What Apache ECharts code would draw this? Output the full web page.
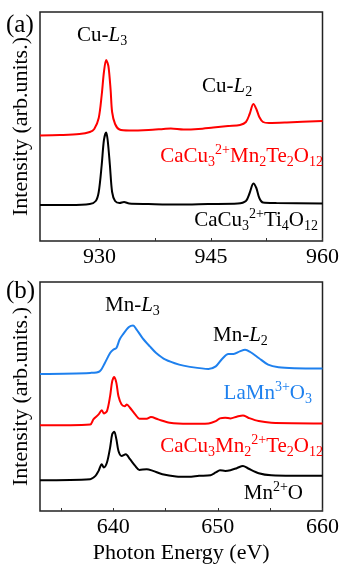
<!DOCTYPE html>
<html>
<head>
<meta charset="utf-8">
<script src="https://cdn.jsdelivr.net/npm/echarts@6/dist/echarts.min.js"></script>
<style>
  html, body { margin: 0; padding: 0; background: #fff; }
  #chart { width: 342px; height: 565px; }
</style>
</head>
<body>
<div id="chart"></div>
<script>
// panel (a): Cu L-edge, [energy eV, intensity arb.]
const cuMnTe = [
  [922.0, 105.5], [924.7, 106], [927.3, 107], [928.7, 109], [929.3, 112], [929.9, 123],
  [930.3, 146], [930.6, 169], [930.9, 181], [931.2, 175], [931.5, 151], [931.7, 129],
  [932.1, 117], [932.7, 111.5], [934.0, 110.5], [936.6, 111], [938.6, 112], [939.6, 112.5],
  [941.3, 111.5], [943.3, 112], [945.3, 113.5], [947.3, 115], [948.9, 116], [949.7, 119],
  [950.2, 127], [950.7, 137], [951.1, 132], [951.5, 124], [952.0, 119], [952.8, 118],
  [955.2, 118.5], [960, 120]
];
const cuTi = [
  [922.0, 36], [926.0, 36], [928.7, 37], [929.5, 40], [929.9, 49], [930.3, 76],
  [930.6, 101], [930.9, 108.5], [931.1, 101], [931.4, 76], [931.7, 49], [932.1, 40],
  [932.7, 38], [933.3, 39], [934.0, 37.5], [936.6, 37], [940.6, 36.5], [944.6, 37],
  [948.6, 37.5], [949.7, 40], [950.2, 48], [950.7, 57.5], [951.1, 53], [951.5, 43],
  [952.0, 38.5], [953.8, 38], [960, 37.5]
];

// panel (b): Mn L-edge
const laMnO3 = [
  [633, 137.7], [637.8, 138.7], [638.7, 140.3], [639.2, 148.7], [639.7, 158.7], [640.0, 162],
  [640.3, 163.7], [640.6, 172], [640.9, 177], [641.5, 184.7], [641.9, 186.3], [642.2, 182.7],
  [642.8, 173.7], [643.5, 165.3], [644.1, 158.7], [645.0, 152], [646.3, 147], [647.2, 145],
  [649.1, 142.7], [649.8, 145.3], [650.4, 152.7], [651.0, 157.7], [651.5, 157.7], [652.1, 160.3],
  [652.6, 162], [653.1, 159.7], [653.9, 153.7], [654.8, 147], [655.8, 144.3], [657.3, 143.3],
  [660, 143]
];
const mnCuTe = [
  [633, 86], [637.8, 87], [638.1, 92], [638.6, 97], [638.9, 101.3], [639.1, 98],
  [639.4, 100.3], [639.7, 115.3], [639.9, 130.3], [640.1, 134.7], [640.3, 128.7], [640.5, 115.3],
  [640.8, 107], [641.1, 105.3], [641.3, 107], [641.6, 103.7], [642.1, 97], [642.5, 92.7],
  [643.2, 92.7], [643.6, 94.3], [644.3, 92], [645.4, 88.7], [647.2, 87.7], [649.1, 88],
  [649.8, 90.3], [650.2, 93], [650.7, 93.7], [651.2, 93], [651.8, 94.7], [652.4, 96],
  [652.9, 93.7], [653.9, 90.3], [655.1, 88.7], [660, 88]
];
const mnO = [
  [633, 31], [637.8, 32], [638.3, 35.3], [638.6, 40.3], [638.9, 47], [639.1, 43.7],
  [639.4, 48.7], [639.7, 63.7], [639.9, 77], [640.1, 79.7], [640.3, 72], [640.5, 60.3],
  [640.8, 55.3], [641.2, 57], [641.6, 52], [642.1, 45.3], [642.5, 41.3], [643.2, 42],
  [643.8, 40.3], [644.7, 37], [646.0, 34.7], [647.2, 34.3], [648.2, 35.3], [649.3, 36],
  [649.8, 38.7], [650.2, 41], [650.7, 40.3], [651.2, 41], [651.8, 43], [652.4, 45.3],
  [652.9, 42.7], [653.9, 38], [655.1, 36], [660, 35.3]
];

const labelsA = [930, 945, 960];
const ticksA = [930, 937.5, 945, 952.5, 960];
const labelsB = [640, 650, 660];
const ticksB = [635, 640, 645, 650, 655, 660];

const FONT = "Liberation Serif";
const RED = "#ff0000";
const BLUE = "#1e80ee";

const chart = echarts.init(document.getElementById("chart"));

function xAxis(idx, min, max, labels, ticks, name) {
  return {
    type: "value", gridIndex: idx, min: min, max: max,
    axisLine: { show: false },
    splitLine: { show: false },
    axisTick: { inside: true, length: 3, customValues: ticks, lineStyle: { color: "#333", width: 1 } },
    axisLabel: { customValues: labels, fontFamily: FONT, fontSize: 22, color: "#000", margin: 5 },
    name: name, nameLocation: "middle", nameGap: 31,
    nameTextStyle: { fontFamily: FONT, fontSize: 22, color: "#000" }
  };
}

function yAxis(idx, max) {
  return {
    type: "value", gridIndex: idx, min: 0, max: max,
    axisLine: { show: false }, axisTick: { show: false },
    axisLabel: { show: false }, splitLine: { show: false },
    name: "Intensity (arb.units.)", nameLocation: "middle", nameGap: 8,
    nameTextStyle: { fontFamily: FONT, fontSize: 22, color: "#000" }
  };
}

function line(idx, data, color) {
  return {
    type: "line", xAxisIndex: idx, yAxisIndex: idx, data: data,
    showSymbol: false, smooth: 0.3,
    lineStyle: { color: color, width: 2 }
  };
}

const rich = {
  n: { fontFamily: FONT, fontSize: 21, lineHeight: 26 },
  i: { fontFamily: FONT, fontSize: 21, lineHeight: 26, fontStyle: "italic" },
  sub: { fontFamily: FONT, fontSize: 14, lineHeight: 14, verticalAlign: "bottom" },
  sup: { fontFamily: FONT, fontSize: 14, lineHeight: 14, verticalAlign: "top" }
};

function label(text, x, y, color, align) {
  return {
    type: "text", x: x, y: y,
    style: { text: text, rich: rich, fill: color, align: align || "left", verticalAlign: "top" }
  };
}

chart.setOption({
  animation: false,
  grid: [
    { left: 40, top: 12, right: 17, height: 229, show: true, borderColor: "#222", borderWidth: 1.5 },
    { left: 40, top: 282, right: 17, height: 230, show: true, borderColor: "#222", borderWidth: 1.5 }
  ],
  xAxis: [
    xAxis(0, 922, 960, labelsA, ticksA, ""),
    xAxis(1, 633, 660, labelsB, ticksB, "Photon Energy (eV)")
  ],
  yAxis: [yAxis(0, 229), yAxis(1, 230)],
  series: [
    line(0, cuMnTe, RED),
    line(0, cuTi, "#000"),
    line(1, laMnO3, BLUE),
    line(1, mnCuTe, RED),
    line(1, mnO, "#000")
  ],
  graphic: [
    { type: "text", x: 6, y: 13, style: { text: "(a)", fontFamily: FONT, fontSize: 25, fill: "#000" } },
    { type: "text", x: 6, y: 279, style: { text: "(b)", fontFamily: FONT, fontSize: 25, fill: "#000" } },
    label("{n|Cu-}{i|L}{sub|3}", 77, 22, "#000"),
    label("{n|Cu-}{i|L}{sub|2}", 202, 73, "#000"),
    label("{n|CaCu}{sub|3}{sup|2+}{n|Mn}{sub|2}{n|Te}{sub|2}{n|O}{sub|12}", 323, 143, RED, "right"),
    label("{n|CaCu}{sub|3}{sup|2+}{n|Ti}{sub|4}{n|O}{sub|12}", 318, 207, "#000", "right"),
    label("{n|Mn-}{i|L}{sub|3}", 105, 292, "#000"),
    label("{n|Mn-}{i|L}{sub|2}", 213, 322, "#000"),
    label("{n|LaMn}{sup|3+}{n|O}{sub|3}", 312, 380, BLUE, "right"),
    label("{n|CaCu}{sub|3}{n|Mn}{sub|2}{sup|2+}{n|Te}{sub|2}{n|O}{sub|12}", 323, 433, RED, "right"),
    label("{n|Mn}{sup|2+}{n|O}", 303, 480, "#000", "right")
  ]
});
</script>
</body>
</html>
